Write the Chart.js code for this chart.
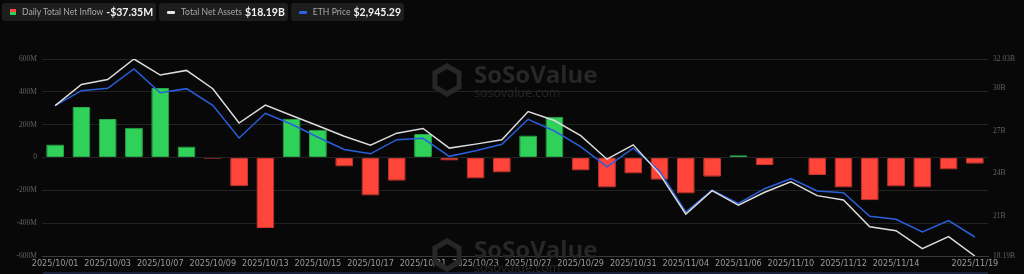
<!DOCTYPE html>
<html>
<head>
<meta charset="utf-8">
<script src="https://cdn.jsdelivr.net/npm/chart.js@4.4.1/dist/chart.umd.min.js"></script>
<style>
  html, body { margin: 0; padding: 0; background: #080808; }
  #wrap { position: relative; width: 1024px; height: 274px; overflow: hidden; }
  #legend { position: absolute; left: 2px; top: 3px; display: flex; gap: 3px; font-family: Lato, sans-serif; }
  .item { background: #1d1d1d; border-radius: 3px; height: 18px; padding: 0 3px 0 8px; display: flex; align-items: center; white-space: nowrap; }
  .item .lbl { color: #a8a8a8; font-size: 8.6px; margin-left: 6px; }
  .item .val { color: #f2f2f2; font-size: 10.5px; font-weight: 700; margin-left: 3px; }
  .mk-flow { width: 6px; height: 6px; background: linear-gradient(#ff453a 50%, #30d158 50%); }
  .mk-line { width: 8px; height: 3px; border-radius: 1px; }
  #strip { position: absolute; left: 43px; top: 272px; width: 945px; height: 2px; background: #18223a; }
</style>
</head>
<body>
<div id="wrap">
  <canvas id="myChart" width="1024" height="274"></canvas>
  <div id="legend">
    <div class="item"><div class="mk-flow"></div><span class="lbl">Daily Total Net Inflow</span><span class="val">-$37.35M</span></div>
    <div class="item"><div class="mk-line" style="background:#e6e6e6"></div><span class="lbl">Total Net Assets</span><span class="val">$18.19B</span></div>
    <div class="item"><div class="mk-line" style="background:#2a62e6"></div><span class="lbl">ETH Price</span><span class="val">$2,945.29</span></div>
  </div>
  <div id="strip"></div>
</div>
<script>
// trading days
let dates = [
  "2025/10/01", "2025/10/02", "2025/10/03", "2025/10/06", "2025/10/07", "2025/10/08",
  "2025/10/09", "2025/10/10", "2025/10/13", "2025/10/14", "2025/10/15", "2025/10/16",
  "2025/10/17", "2025/10/20", "2025/10/21", "2025/10/22", "2025/10/23", "2025/10/24",
  "2025/10/27", "2025/10/28", "2025/10/29", "2025/10/30", "2025/10/31", "2025/11/03",
  "2025/11/04", "2025/11/05", "2025/11/06", "2025/11/07", "2025/11/10", "2025/11/11",
  "2025/11/12", "2025/11/13", "2025/11/14", "2025/11/17", "2025/11/18", "2025/11/19"
];

// daily net inflow, $M
let netInflow = [
  79, 307, 234, 181, 423, 67, -8, -175, -430, 236, 169, -55,
  -232, -142, 143, -18, -128, -91, 134, 248, -79, -183, -98, -136,
  -220, -118, 14, -46, 0, -106, -183, -260, -177, -183, -73, -37.35
];

// total net assets, $B
let netAssets = [
  28.76, 30.24, 30.59, 32.03, 30.90, 31.23, 29.94, 27.53, 28.79, 28.06, 27.34, 26.60,
  25.98, 26.82, 27.15, 25.77, 26.05, 26.35, 28.34, 27.71, 26.65, 24.99, 26.00, 23.96,
  21.14, 22.78, 21.76, 22.67, 23.40, 22.43, 22.13, 20.25, 19.97, 18.70, 19.55, 18.19
];

// ETH price, $
let ethPrice = [
  4309, 4465, 4490, 4690, 4444, 4486, 4313, 3974, 4230, 4116, 3981, 3854,
  3809, 3956, 3970, 3783, 3842, 3908, 4168, 4046, 3883, 3675, 3867, 3631,
  3205, 3433, 3295, 3447, 3551, 3423, 3405, 3160, 3129, 2997, 3115, 2945.29
];

let leftTicks = [-600, -400, -200, 0, 200, 400, 600];
let rightTicks = [18.19, 21, 24, 27, 30, 32.03];

const green = "#30d158";
const red = "#ff453a";

const watermark = {
  id: "watermark",
  beforeDatasetsDraw(chart) {
    const c = chart.ctx;
    c.save();
    [80, 255].forEach((cy) => {
      // cube icon
      c.strokeStyle = "#272727";
      c.lineWidth = 5;
      c.beginPath();
      for (let k = 0; k < 6; k++) {
        let a = Math.PI / 3 * k - Math.PI / 2;
        let px = 447 + 14 * Math.cos(a);
        let py = cy + 14 * Math.sin(a);
        if (k === 0) c.moveTo(px, py); else c.lineTo(px, py);
      }
      c.closePath();
      c.stroke();
      c.fillStyle = "#272727";
      c.font = "bold 24px 'Open Sans', sans-serif";
      c.textBaseline = "alphabetic";
      c.fillText("SoSoValue", 474, cy + 3);
      c.font = "12.5px 'Open Sans', sans-serif";
      c.fillText("sosovalue.com", 474, cy + 17);
    });
    c.restore();
  }
};

const ctx = document.getElementById("myChart");

new Chart(ctx, {
  type: "bar",
  data: {
    labels: dates,
    datasets: [
      {
        type: "line",
        label: "Total Net Assets",
        data: netAssets,
        borderColor: "#dcdcdc",
        borderWidth: 1.5,
        pointRadius: 0,
        tension: 0,
        yAxisID: "y1",
        order: 1
      },
      {
        type: "line",
        label: "ETH Price",
        data: ethPrice,
        borderColor: "#2a5fdc",
        borderWidth: 1.5,
        pointRadius: 0,
        tension: 0,
        yAxisID: "y2",
        order: 2
      },
      {
        label: "Daily Total Net Inflow",
        data: netInflow,
        backgroundColor: netInflow.map((v) => (v >= 0 ? green : red)),
        borderColor: netInflow.map((v) => (v >= 0 ? "#27a84a" : "#c9362e")),
        borderWidth: 1,
        borderRadius: 1,
        borderSkipped: false,
        categoryPercentage: 1,
        barPercentage: 0.68,
        yAxisID: "y",
        order: 3
      }
    ]
  },
  options: {
    responsive: false,
    animation: false,
    layout: { padding: { top: 59, left: 0, right: 0, bottom: 0 } },
    plugins: { legend: { display: false }, tooltip: { enabled: false } },
    scales: {
      x: {
        offset: true,
        grid: { display: false, drawTicks: false },
        border: { display: true, color: "#3a3a3a" },
        ticks: {
          autoSkip: false,
          maxRotation: 0,
          padding: 2,
          color: "#9a9a9a",
          font: { family: "'Liberation Sans Narrow', 'DejaVu Sans Condensed', sans-serif", size: 9 },
          callback: function (v, i) {
            if (i === dates.length - 1 || (i % 2 === 0 && i < dates.length - 2)) return dates[i];
            return "";
          }
        },
        afterFit: (s) => { s.height = 18; }
      },
      y: {
        position: "left",
        min: -600,
        max: 600,
        afterBuildTicks: (s) => { s.ticks = leftTicks.map((v) => ({ value: v })); },
        grid: { color: "#232323", drawTicks: false },
        border: { display: false },
        ticks: {
          padding: 5,
          color: "#626262",
          font: { family: "Liberation Serif", size: 7.5 },
          callback: (v) => (v === 0 ? "0" : v + "M")
        },
        afterFit: (s) => { s.width = 42; }
      },
      y1: {
        position: "right",
        min: 18.19,
        max: 32.03,
        afterBuildTicks: (s) => { s.ticks = rightTicks.map((v) => ({ value: v })); },
        grid: { display: false, drawTicks: false },
        border: { display: false },
        ticks: {
          padding: 5,
          color: "#626262",
          font: { family: "Liberation Serif", size: 7.5 },
          callback: (v) => v + "B"
        },
        afterFit: (s) => { s.width = 36; }
      },
      y2: {
        display: false,
        min: 2748,
        max: 4794
      }
    }
  },
  plugins: [watermark]
});
</script>
</body>
</html>
